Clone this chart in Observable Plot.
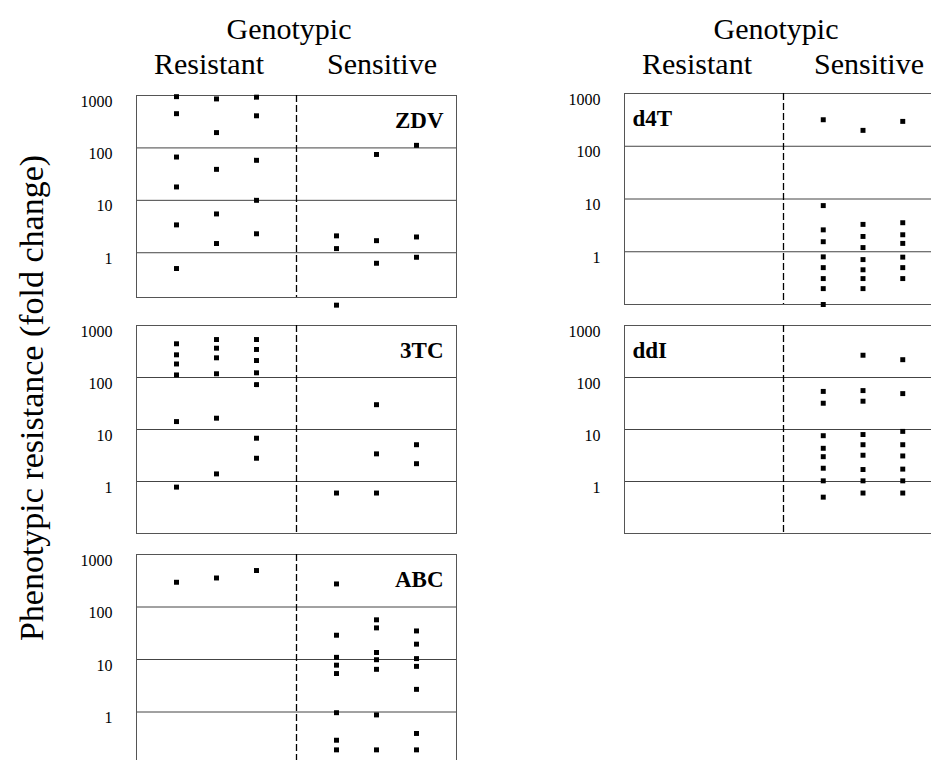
<!DOCTYPE html>
<html><head><meta charset="utf-8">
<script src="https://cdn.jsdelivr.net/npm/d3@7"></script>
<script src="https://cdn.jsdelivr.net/npm/@observablehq/plot@0.6"></script>
<style>
body{margin:0;background:#fff;}
#root{position:relative;width:931px;height:760px;overflow:hidden;font-family:"Liberation Serif","Times New Roman",serif;color:#000;background:#fff;}
.lbl{position:absolute;font-size:30px;white-space:nowrap;transform:translateX(-50%);line-height:1;}
.ytitle{position:absolute;font-size:34px;white-space:nowrap;line-height:1;transform:translate(-50%,-50%) rotate(-90deg);}
.panel{position:absolute;}
</style></head>
<body><div id="root"></div>
<script>
// ---- text ----
const headerTop = "Genotypic";
const groups = ["Resistant", "Sensitive"];
const yTitle = "Phenotypic resistance (fold change)";
const yTicks = [1, 10, 100, 1000];
const gridValues = [1, 10, 100];

// ---- data (fold change), three patient columns per genotypic group ----
const zdvResistant = [[950, 450, 67, 18, 3.4, 0.5], [860, 196, 39, 5.5, 1.5], [930, 410, 58, 10, 2.3]];
const zdvSensitive = [[2.1, 1.2, 0.1], [75, 1.7, 0.63], [112, 2.0, 0.82]];

const tcResistant = [[445, 273, 182, 112, 14.2, 0.78], [537, 366, 239, 118, 16.5, 1.4], [537, 346, 212, 123, 73, 6.8, 2.8]];
const tcSensitive = [[0.6], [30, 3.4, 0.6], [5.1, 2.2]];

const abcResistant = [[296], [357], [495]];
const abcSensitive = [[275, 29, 11, 7.8, 5.4, 0.97, 0.29, 0.19], [57, 40, 13.6, 9.9, 6.5, 0.88, 0.19], [35, 19.6, 10.4, 7.4, 2.7, 0.39, 0.19]];

const d4tResistant = [[], [], []];
const d4tSensitive = [[318, 7.5, 2.6, 1.55, 0.8, 0.5, 0.31, 0.2, 0.1], [200, 3.3, 1.95, 1.2, 0.71, 0.455, 0.31, 0.2], [296, 3.55, 2.1, 1.44, 0.79, 0.5, 0.31]];

const ddiResistant = [[], [], []];
const ddiSensitive = [[54, 32, 7.6, 4.35, 3.0, 1.8, 1.03, 0.5], [268, 56, 35, 8.0, 5.1, 3.2, 1.7, 1.03, 0.6], [220, 49, 9.2, 5.1, 3.1, 1.73, 1.03, 0.6]];

const panels = [
  {name: "ZDV", res: zdvResistant, sen: zdvSensitive, left: 136, top: 95, w: 320, h: 202, ymin: 0.14, right: true},
  {name: "3TC", res: tcResistant, sen: tcSensitive, left: 136, top: 325, w: 320, h: 208, ymin: 0.1, right: true},
  {name: "ABC", res: abcResistant, sen: abcSensitive, left: 136, top: 554, w: 320, h: 210, ymin: 0.1, right: true},
  {name: "d4T", res: d4tResistant, sen: d4tSensitive, left: 624, top: 93, w: 318, h: 211, ymin: 0.1, right: false},
  {name: "ddI", res: ddiResistant, sen: ddiSensitive, left: 624, top: 325, w: 318, h: 208, ymin: 0.1, right: false}
];

const root = document.getElementById("root");
const ML = 70, MT = 10, MR = 12, MB = 26;

for (const p of panels) {
  const rows = [];
  p.res.forEach((col, i) => col.forEach(v => rows.push({x: i + 1, y: v})));
  p.sen.forEach((col, i) => col.forEach(v => rows.push({x: i + 5, y: v})));
  const chart = Plot.plot({
    width: ML + p.w + MR,
    height: MT + p.h + MB,
    marginLeft: ML, marginTop: MT, marginRight: MR, marginBottom: MB,
    x: {domain: [0, 8], axis: null},
    y: {type: "log", domain: [p.ymin, 1000]},
    style: {fontFamily: "Liberation Serif, Times New Roman, serif", fontSize: "16px", color: "#000", background: "transparent", overflow: "visible"},
    marks: [
      Plot.ruleY(gridValues, {stroke: "#444", strokeWidth: 1}),
      Plot.frame({stroke: "#555", strokeWidth: 1}),
      Plot.ruleX([4], {stroke: "#000", strokeWidth: 1.3, strokeDasharray: "7,3"}),
      Plot.axisY(yTicks, {tickSize: 0, tickPadding: 24, tickFormat: d => String(d), label: null, dy: 6, fill: "#000"}),
      Plot.dot(rows, {x: "x", y: "y", symbol: "square", r: 2.8, fill: "#000"}),
      Plot.text([p.name], {
        frameAnchor: p.right ? "top-right" : "top-left",
        textAnchor: p.right ? "end" : "start",
        lineAnchor: "middle",
        dx: p.right ? -13 : 8, dy: 25,
        fontWeight: "bold", fontSize: 23, fill: "#000"
      })
    ]
  });
  chart.classList.add("panel");
  chart.style.left = (p.left - ML) + "px";
  chart.style.top = (p.top - MT) + "px";
  root.appendChild(chart);
}

function addLabel(text, cx, top, cls) {
  const d = document.createElement("div");
  d.className = cls;
  d.textContent = text;
  d.style.left = cx + "px";
  d.style.top = top + "px";
  root.appendChild(d);
}
// headers for both columns of panels
[[136, 296], [624, 783]].forEach(([fl, mid]) => {
  addLabel(headerTop, mid - 7, 14, "lbl");
  addLabel(groups[0], fl + 73, 49, "lbl");
  addLabel(groups[1], mid + 86, 49, "lbl");
});
addLabel(yTitle, 32, 398, "ytitle");
</script>
</body></html>
